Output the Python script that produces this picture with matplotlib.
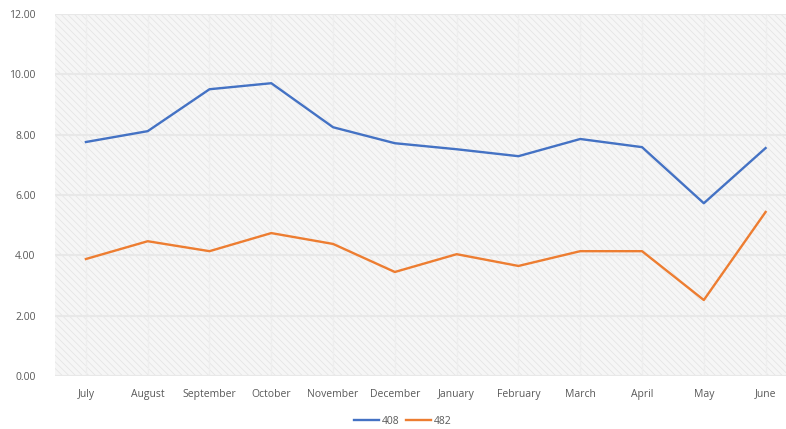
import matplotlib.pyplot as plt
from matplotlib.patches import Rectangle
import numpy as np

months = ['July', 'August', 'September', 'October', 'November', 'December',
          'January', 'February', 'March', 'April', 'May', 'June']
s408 = [7.76, 8.12, 9.51, 9.71, 8.25, 7.72, 7.52, 7.29, 7.86, 7.59, 5.73, 7.56]
s482 = [3.88, 4.47, 4.14, 4.74, 4.38, 3.45, 4.04, 3.65, 4.14, 4.14, 2.52, 5.44]
yticks = [0, 2, 4, 6, 8, 10, 12]

plt.rcParams['font.family'] = ['Open Sans', 'DejaVu Sans']
plt.rcParams['hatch.linewidth'] = 0.5
plt.rcParams['hatch.color'] = '#e2e2e2'

fig = plt.figure(figsize=(7.86, 4.29), dpi=100)
ax = fig.add_axes([0.07, 0.1235, 0.93, 0.8435])

# hatched background like the scanned original
ax.patch.set_facecolor('#f6f6f6')
bg = Rectangle((0, 0), 1, 1, transform=ax.transAxes, facecolor='#f6f6f6',
               edgecolor='#e2e2e2', hatch='\\\\\\\\\\', linewidth=0, zorder=0)
ax.add_patch(bg)

x = np.arange(len(months))
ax.plot(x, s408, color='#4472C4', lw=1.7, label='408', zorder=3)
ax.plot(x, s482, color='#ED7D31', lw=1.7, label='482', zorder=3)

ax.set_xlim(-0.5, 11.33)
ax.set_ylim(0, 12)
ax.set_yticks(yticks)
ax.set_yticklabels([f'{v:.2f}' for v in yticks])
ax.set_xticks(x)
ax.set_xticklabels(months)
ax.tick_params(length=0, labelsize=7.5, labelcolor='#595959')
ax.tick_params(axis='y', pad=14)
ax.tick_params(axis='x', pad=9)
ax.grid(axis='y', color='#e8e8e8', lw=1.5, zorder=1)
ax.grid(axis='x', color='#eeeeee', lw=1, zorder=1)
for s in ax.spines.values():
    s.set_visible(False)

ax.legend(loc='center', bbox_to_anchor=(0.476, -0.125), ncol=2, frameon=False,
          fontsize=7.5, labelcolor='#595959', handlelength=2.4,
          handletextpad=0.3, columnspacing=0.6)

fig.savefig('out.png', dpi=100)
